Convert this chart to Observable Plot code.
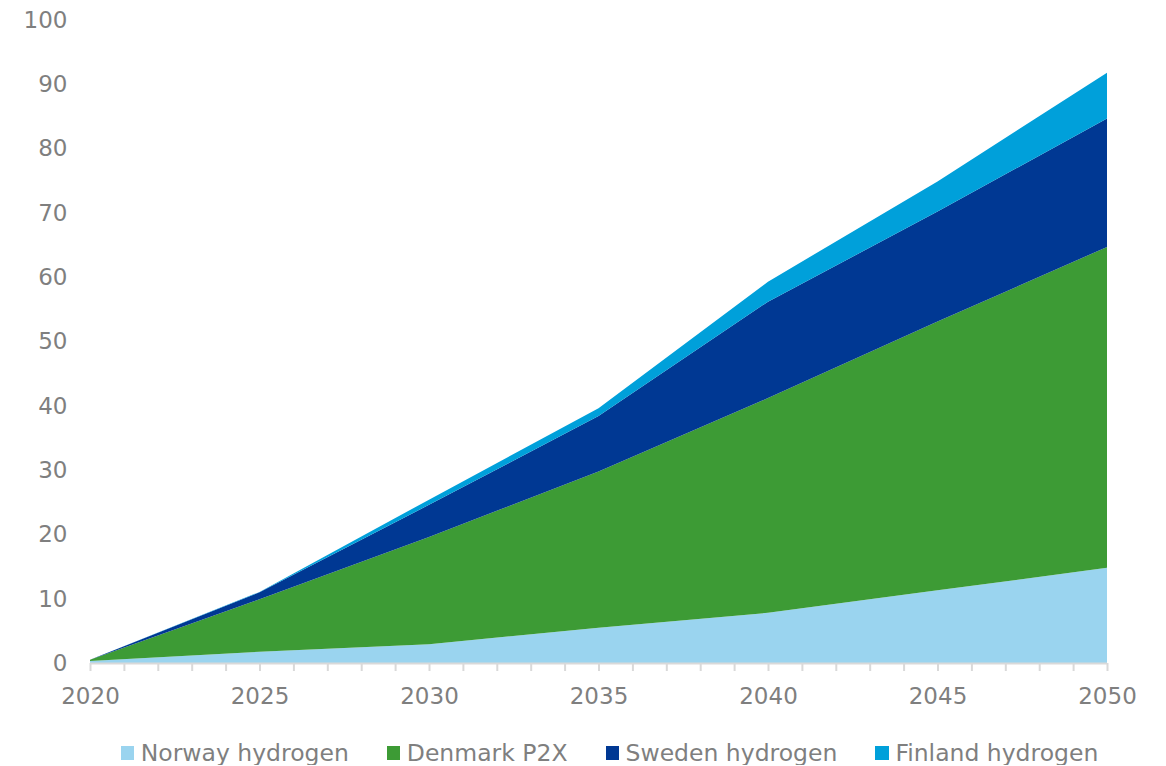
<!DOCTYPE html>
<html>
<head>
<meta charset="utf-8">
<script src="https://cdn.jsdelivr.net/npm/d3@7"></script>
<script src="https://cdn.jsdelivr.net/npm/@observablehq/plot@0.6"></script>
<style>
  html, body { margin: 0; padding: 0; background: #fff; }
  #chart { width: 1166px; font-family: "DejaVu Sans", Verdana, sans-serif; }
  .legend { width: 1166px; box-sizing: border-box; padding-left: 53px; margin-top: 21px; height: 24px;
            display: flex; justify-content: center; align-items: center;
            font-family: "DejaVu Sans", Verdana, sans-serif; font-size: 23.5px; color: #7f7f7f; }
  .legend .item { display: flex; align-items: center; margin: 0 19px; white-space: nowrap; }
  .legend .sw { width: 13.5px; height: 13.5px; margin-right: 6.5px; }
</style>
</head>
<body>
<div id="chart"></div>
<script>
const years = [2020, 2025, 2030, 2035, 2040, 2045, 2050];
const seriesNames = ["Norway hydrogen", "Denmark P2X", "Sweden hydrogen", "Finland hydrogen"];
const seriesColors = ["#9ad4ef", "#3d9b35", "#003893", "#00a0da"];
const norway  = [0.3, 1.75, 2.9, 5.5, 7.8, 11.3, 14.8];
const denmark = [0.2, 8.15, 16.7, 24.3, 33.4, 41.8, 49.9];
const sweden  = [0.0, 1.1, 5.0, 8.6, 15.0, 17.1, 20.0];
const finland = [0.0, 0.05, 0.8, 1.2, 3.1, 4.7, 7.1];
const yTicks = [0, 10, 20, 30, 40, 50, 60, 70, 80, 90, 100];
const xMinorTicks = d3.range(2020, 2051);
const xLabelTicks = [2020, 2025, 2030, 2035, 2040, 2045, 2050];

const seriesValues = [norway, denmark, sweden, finland];
const data = [];
seriesNames.forEach((name, i) => {
  years.forEach((yr, j) => data.push({series: name, year: yr, value: seriesValues[i][j]}));
});

const plot = Plot.plot({
  width: 1166,
  height: 720,
  marginLeft: 90,
  marginRight: 59,
  marginTop: 20,
  marginBottom: 57,
  style: {fontFamily: '"DejaVu Sans", Verdana, sans-serif', fontSize: "23px", color: "#7f7f7f", background: "#fff"},
  x: {domain: [2020, 2050], axis: null},
  y: {domain: [0, 100], axis: null},
  color: {domain: seriesNames, range: seriesColors},
  marks: [
    Plot.areaY(data, {x: "year", y: "value", fill: "series", z: "series", order: seriesNames}),
    Plot.ruleY([0], {stroke: "#d9d9d9", strokeWidth: 2}),
    Plot.axisX({ticks: xMinorTicks, tickSize: 8, stroke: "#d9d9d9", strokeWidth: 2, tickFormat: () => "", label: null}),
    Plot.axisX({ticks: xLabelTicks, tickSize: 0, tickPadding: 24, fill: "#7f7f7f", fontSize: 23, tickFormat: d => String(d), label: null}),
    Plot.axisY({ticks: yTicks, tickSize: 0, tickPadding: 23, fill: "#7f7f7f", fontSize: 23, tickFormat: d => String(d), label: null})
  ]
});
document.getElementById("chart").appendChild(plot);

const legend = document.createElement("div");
legend.className = "legend";
seriesNames.forEach((name, i) => {
  const item = document.createElement("div");
  item.className = "item";
  const sw = document.createElement("span");
  sw.className = "sw";
  sw.style.background = seriesColors[i];
  const label = document.createElement("span");
  label.textContent = name;
  item.appendChild(sw);
  item.appendChild(label);
  legend.appendChild(item);
});
document.getElementById("chart").appendChild(legend);
</script>
</body>
</html>
